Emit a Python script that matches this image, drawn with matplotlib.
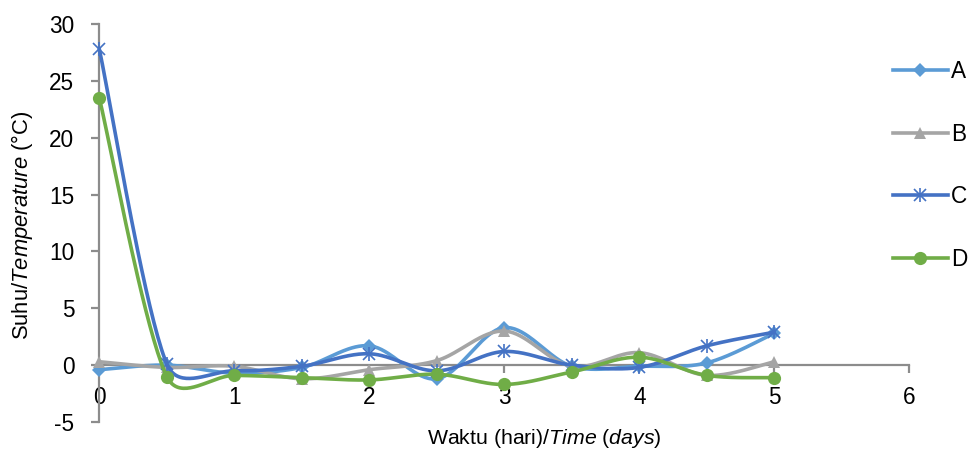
import numpy as np
import matplotlib
matplotlib.use("Agg")
import matplotlib.pyplot as plt
from matplotlib.lines import Line2D

plt.rcParams['font.family'] = ['Liberation Sans', 'DejaVu Sans']
plt.rcParams['mathtext.fontset'] = 'custom'
plt.rcParams['mathtext.rm'] = 'Liberation Sans'
plt.rcParams['mathtext.it'] = 'Liberation Sans:italic'

# ---- data ----
time_days = [0, 0.5, 1, 1.5, 2, 2.5, 3, 3.5, 4, 4.5, 5]
series_A = [-0.4, 0.0, -0.7, -0.2, 1.7, -1.2, 3.3, -0.1, -0.1, 0.2, 2.8]
series_B = [0.3, -0.2, -0.1, -1.2, -0.4, 0.4, 3.0, -0.1, 1.1, -0.9, 0.3]
series_C = [27.8, 0.1, -0.5, -0.1, 1.0, -0.5, 1.2, 0.0, -0.2, 1.7, 2.9]
series_D = [23.5, -1.0, -0.9, -1.1, -1.3, -0.8, -1.7, -0.6, 0.7, -0.9, -1.1]
labels = ['A', 'B', 'C', 'D']
x_ticks = [0, 1, 2, 3, 4, 5, 6]
y_ticks = [-5, 0, 5, 10, 15, 20, 25, 30]

colors = ['#5B9BD5', '#A5A5A5', '#4472C4', '#70AD47']
axis_col = '#8C8C8C'
FS = 16.3

W, H = 973, 451
fig = plt.figure(figsize=(W / 100, H / 100), dpi=100)
ax = fig.add_axes([99.3 / W, 1 - 422 / H, (909.3 - 99.3) / W, (422 - 24) / H])
ax.set_xlim(0, 6)
ax.set_ylim(-5, 30)


def smooth_curve(ax, xs, ys, n=40, k=0.45):
    pts = ax.transData.transform(np.column_stack([xs, ys]))
    N = len(pts)
    out = []
    t = np.linspace(0, 1, n)[:, None]
    for i in range(N - 1):
        p0, p3 = pts[i], pts[i + 1]
        prev = pts[i - 1] if i > 0 else pts[i]
        nxt = pts[i + 2] if i + 2 < N else pts[i + 1]
        d = np.linalg.norm(p3 - p0)
        a1 = (p3 - prev) / 6.0
        a2 = (nxt - p0) / 6.0
        for a in (a1, a2):
            L = np.linalg.norm(a)
            if L > k * d and L > 0:
                a *= k * d / L
        p1 = p0 + a1
        p2 = p3 - a2
        seg = ((1 - t) ** 3) * p0 + 3 * ((1 - t) ** 2) * t * p1 + 3 * (1 - t) * t ** 2 * p2 + t ** 3 * p3
        out.append(seg if i == 0 else seg[1:])
    curve = np.vstack(out)
    return ax.transData.inverted().transform(curve)


all_series = [series_A, series_B, series_C, series_D]
marker_specs = [
    [dict(marker='D', markersize=7, mew=0)],
    [dict(marker='^', markersize=9, mew=0)],
    [dict(marker='x', markersize=9, mew=1.2), dict(marker='|', markersize=10, mew=1.2)],
    [dict(marker='o', markersize=9.5, mew=0)],
]
handles = []
for s, (vals, col, mspecs) in enumerate(zip(all_series, colors, marker_specs)):
    cv = smooth_curve(ax, time_days, vals)
    ax.plot(cv[:, 0], cv[:, 1], color=col, lw=2.6, zorder=3 + s * 2, solid_capstyle='round',
            clip_on=False)
    for ms in mspecs:
        ax.plot(time_days, vals, ls='none', color=col, markerfacecolor=col, markeredgecolor=col,
                zorder=4 + s * 2, clip_on=False, **ms)
    hs = []
    for j, ms in enumerate(mspecs):
        hs.append(Line2D([], [], color=col, lw=2.6 if j == 0 else 0, markerfacecolor=col,
                         markeredgecolor=col, **ms))
    handles.append(tuple(hs) if len(hs) > 1 else hs[0])

# axes styling
for sp in ['top', 'right']:
    ax.spines[sp].set_visible(False)
ax.spines['bottom'].set_position(('data', 0))
ax.spines['left'].set_position(('data', 0))
for sp in ['bottom', 'left']:
    ax.spines[sp].set_color(axis_col)
    ax.spines[sp].set_linewidth(1.6)
ax.set_xticks(x_ticks)
ax.set_yticks(y_ticks)
ax.set_xticklabels([str(v) for v in x_ticks])
ax.set_yticklabels([str(v) for v in y_ticks])
ax.tick_params(axis='both', colors=axis_col, labelcolor='black', labelsize=FS,
               width=1.6, length=6, direction='out')
ax.tick_params(axis='x', pad=9)
ax.tick_params(axis='y', pad=12)
ax.patch.set_alpha(0)

fig.text(22 / W, 1 - 225 / H, 'Suhu/$\\mathit{Temperature}$ (°C)', rotation=90,
         ha='center', va='center', fontsize=15.8)
fig.text(544.5 / W, 1 - 450 / H, 'Waktu (hari)/$\\mathit{Time}$ $\\mathit{(days)}$',
         ha='center', va='bottom', fontsize=15.3)

leg = fig.legend(handles, labels, loc='upper left', bbox_to_anchor=(892.7 / W, 1 - 60 / H),
                 frameon=False, fontsize=FS, handlelength=2.45, handletextpad=0.12,
                 labelspacing=1.75, borderpad=0, borderaxespad=0)

fig.savefig('out.png', dpi=100)
